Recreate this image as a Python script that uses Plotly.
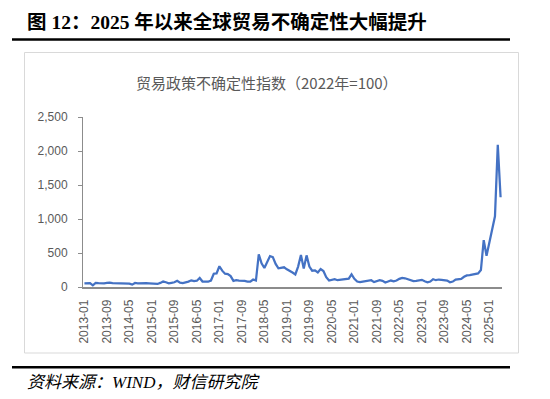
import plotly.graph_objects as go

years = list(range(2013, 2026))
months = [f"{y}-{m:02d}" for y in years for m in range(1, 13)][:149]

vals_2013 = [55, 62, 58, 25, 60, 56, 52, 55, 60, 65, 58, 55]
vals_2014 = [54, 52, 55, 53, 50, 35, 60, 55, 52, 54, 56, 55]
vals_2015 = [55, 52, 45, 60, 80, 70, 55, 62, 70, 92, 65, 58]
vals_2016 = [64, 80, 98, 88, 92, 132, 80, 78, 78, 95, 195, 200]
vals_2017 = [305, 240, 195, 190, 160, 90, 100, 95, 95, 90, 80, 78]
vals_2018 = [110, 95, 480, 348, 280, 380, 455, 440, 340, 275, 280, 290]
vals_2019 = [260, 240, 212, 185, 300, 470, 270, 465, 300, 240, 245, 215]
vals_2020 = [265, 235, 145, 95, 105, 115, 100, 105, 120, 122, 122, 185]
vals_2021 = [120, 80, 72, 80, 85, 85, 100, 72, 85, 100, 90, 65]
vals_2022 = [80, 95, 85, 95, 120, 135, 128, 115, 95, 88, 90, 92]
vals_2023 = [105, 85, 70, 80, 115, 100, 110, 105, 105, 95, 70, 80]
vals_2024 = [110, 120, 120, 150, 170, 175, 180, 190, 200, 250, 690, 460]
vals_2025 = [650, 840, 1040, 2090, 1320]

values = (vals_2013 + vals_2014 + vals_2015 + vals_2016 + vals_2017 + vals_2018 +
          vals_2019 + vals_2020 + vals_2021 + vals_2022 + vals_2023 + vals_2024 + vals_2025)

tick_labels = months[0:145:8]
y_ticks = [0, 500, 1000, 1500, 2000, 2500]

title_text = "图 12：2025 年以来全球贸易不确定性大幅提升"
chart_title = "贸易政策不确定性指数（2022年=100）"
source_text = "资料来源：WIND，财信研究院"

# plot-area geometry in pixels (for placing paper-referenced decorations)
L, R, T, B = 83, 502, 117, 287
W, H = R - L, B - T


def px(x):
    return (x - L) / W


def py(y):
    return (B - y) / H


fig = go.Figure()
fig.add_trace(go.Scatter(
    x=months, y=values, mode="lines",
    line=dict(color="#4472C4", width=2.25),
    showlegend=False, hoverinfo="skip",
))

tick_font = dict(family="Liberation Sans, Arial, sans-serif", size=12, color="#595959")

fig.update_layout(
    width=550, height=399,
    margin=dict(l=L, r=550 - R, t=T, b=399 - B, autoexpand=False),
    paper_bgcolor="white", plot_bgcolor="white",
    xaxis=dict(
        type="category", range=[-0.5, 148.5],
        tickmode="array", tickvals=tick_labels, ticktext=tick_labels,
        tickangle=-90, tickfont=tick_font,
        showgrid=False, zeroline=False,
        showline=True, linecolor="#8c8c8c", linewidth=1.5,
        ticks="", ticklabelstandoff=6,
    ),
    yaxis=dict(
        range=[0, 2500], tickmode="array", tickvals=y_ticks,
        ticktext=[f"{v:,}" for v in y_ticks],
        tickfont=tick_font,
        showgrid=False, zeroline=False,
        showline=True, linecolor="#8c8c8c", linewidth=1,
        ticks="outside", ticklen=4, tickcolor="#8c8c8c",
        ticklabelstandoff=8,
    ),
    shapes=[
        dict(type="line", xref="paper", yref="paper",
             x0=px(12), x1=px(510), y0=py(39.5), y1=py(39.5),
             line=dict(color="black", width=2.5)),
        dict(type="line", xref="paper", yref="paper",
             x0=px(12), x1=px(510), y0=py(367.3), y1=py(367.3),
             line=dict(color="black", width=2.5)),
        dict(type="rect", xref="paper", yref="paper",
             x0=px(24.5), x1=px(518.5), y0=py(353), y1=py(52.5),
             line=dict(color="#d9d9d9", width=1)),
    ],
    annotations=[
        dict(text=f"<b>{title_text}</b>", xref="paper", yref="paper",
             x=px(25), y=py(22), xanchor="left", yanchor="middle",
             showarrow=False,
             font=dict(family="Liberation Serif, Noto Sans CJK SC, serif", size=19.5, color="black")),
        dict(text=chart_title, xref="paper", yref="paper",
             x=px(267), y=py(82), xanchor="center", yanchor="middle",
             showarrow=False,
             font=dict(family="Noto Sans CJK SC, sans-serif", size=15, color="#595959")),
        dict(text=source_text, xref="paper", yref="paper",
             x=px(25), y=py(382), xanchor="left", yanchor="middle",
             showarrow=False,
             font=dict(family="Liberation Serif, Noto Sans CJK SC, serif", size=17,
                       color="black", style="italic")),
    ],
)

fig.write_html("out.html", config={"displayModeBar": False},
               post_script="document.body.style.margin='0';")
